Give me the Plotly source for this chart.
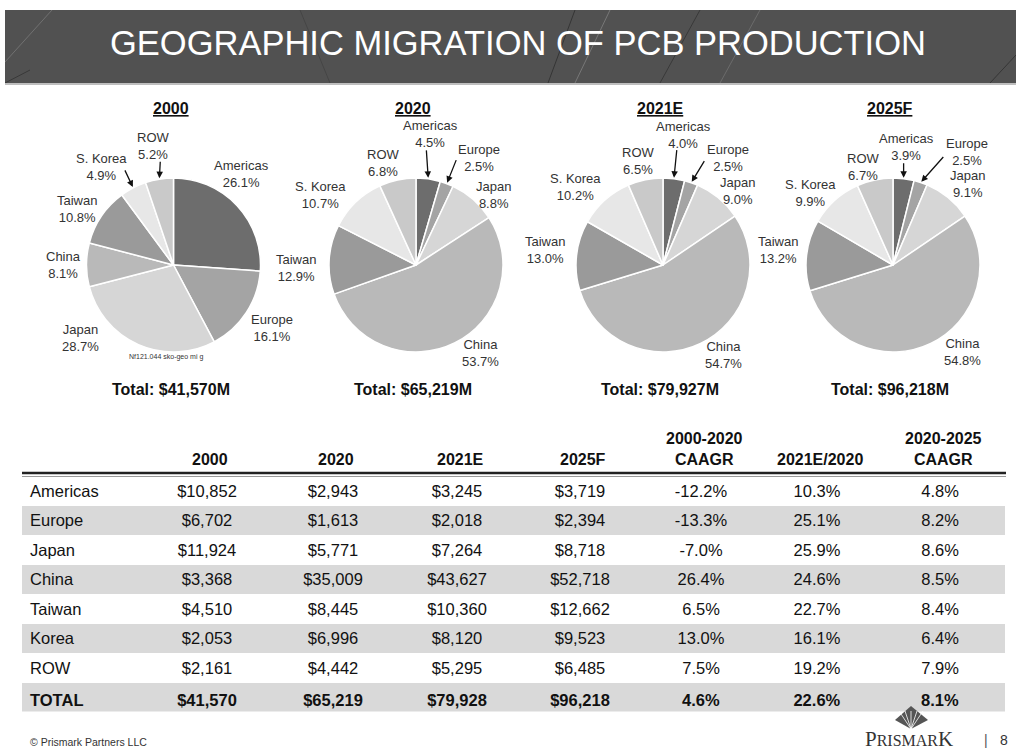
import math
import plotly.graph_objects as go

W, H = 1016, 752

# ---------------- data ----------------
regions = ['Americas', 'Europe', 'Japan', 'China', 'Taiwan', 'S. Korea', 'ROW']
pie_years = ['2000', '2020', '2021E', '2025F']
share_2000 = [26.1, 16.1, 28.7, 8.1, 10.8, 4.9, 5.2]
share_2020 = [4.5, 2.5, 8.8, 53.7, 12.9, 10.7, 6.8]
share_2021E = [4.0, 2.5, 9.0, 54.7, 13.0, 10.2, 6.5]
share_2025F = [3.9, 2.5, 9.1, 54.8, 13.2, 9.9, 6.7]
pie_totals = [41570, 65219, 79927, 96218]

table_rows = ['Americas', 'Europe', 'Japan', 'China', 'Taiwan', 'Korea', 'ROW', 'TOTAL']
table_headers = ['', '2000', '2020', '2021E', '2025F', '2000-2020<br>CAAGR', '2021E/2020', '2020-2025<br>CAAGR']
val_2000 = [10852, 6702, 11924, 3368, 4510, 2053, 2161, 41570]
val_2020 = [2943, 1613, 5771, 35009, 8445, 6996, 4442, 65219]
val_2021E = [3245, 2018, 7264, 43627, 10360, 8120, 5295, 79928]
val_2025F = [3719, 2394, 8718, 52718, 12662, 9523, 6485, 96218]
caagr_2000_2020 = [-12.2, -13.3, -7.0, 26.4, 6.5, 13.0, 7.5, 4.6]
growth_2021E_2020 = [10.3, 25.1, 25.9, 24.6, 22.7, 16.1, 19.2, 22.6]
caagr_2020_2025 = [4.8, 8.2, 8.6, 8.5, 8.4, 6.4, 7.9, 8.1]

# ---------------- styles / layout ----------------
region_colors = ['#6d6d6d', '#a4a4a4', '#d6d6d6', '#b9b9b9', '#9a9a9a', '#e7e7e7', '#c9c9c9']
pie_cx = [173.5, 416, 663, 893]
pie_cy = 265
R = 87
FONT = 'Liberation Sans, Arial, sans-serif'

# label offsets (px) from the pie centre, arrow tail offsets (px) from slice edge
label_offsets = [
    {'Americas': (68, -91), 'Europe': (98, 63), 'Japan': (-93, 73), 'China': (-110, 0),
     'Taiwan': (-97, -56), 'S. Korea': (-72, -98), 'ROW': (-20, -119)},
    {'Americas': (14, -131), 'Europe': (63, -107), 'Japan': (77, -70), 'China': (64, 88),
     'Taiwan': (-120, 3), 'S. Korea': (-96, -70), 'ROW': (-33, -102)},
    {'Americas': (20, -130), 'Europe': (65, -107), 'Japan': (74, -74), 'China': (60, 90),
     'Taiwan': (-118, -15), 'S. Korea': (-88, -78), 'ROW': (-25, -104)},
    {'Americas': (13, -118), 'Europe': (74, -113), 'Japan': (74, -81), 'China': (69, 87),
     'Taiwan': (-115, -15), 'S. Korea': (-83, -72), 'ROW': (-30, -98)},
]
arrows = [
    {'S. Korea': (-9, -19), 'ROW': (1, -19)},
    {'Americas': (-2, -30), 'Europe': (10, -25)},
    {'Americas': (3, -30), 'Europe': (14, -23)},
    {'Americas': (0, -17), 'Europe': (24, -27)},
]
col_widths = [123, 124, 128, 120, 126, 116, 116, 130]
TABLE_X0, TABLE_X1 = 22, 1005
HEAD_LINE_Y = 473
BODY_Y0, BODY_Y1 = 476.5, 712


def px(x):
    return x / W


def py(y):
    return 1 - y / H


fig = go.Figure()
annotations = []
shapes = []

# ---------------- header band ----------------
shapes.append(dict(type='rect', xref='paper', yref='paper', x0=px(5), x1=1, y0=py(83), y1=py(10),
                   fillcolor='#515151', line=dict(width=0), layer='below'))
for (x0, y0, x1, y1, c) in [(5, 62, 52, 10, 'rgba(255,255,255,0.18)'), (5, 83, 30, 70, 'rgba(0,0,0,0.3)'),
                            (548, 83, 575, 10, 'rgba(0,0,0,0.35)'), (575, 83, 610, 10, 'rgba(255,255,255,0.22)'),
                            (660, 83, 700, 10, 'rgba(0,0,0,0.3)'), (720, 83, 760, 10, 'rgba(255,255,255,0.15)'),
                            (990, 83, 1016, 55, 'rgba(0,0,0,0.35)'), (300, 10, 330, 83, 'rgba(0,0,0,0.15)')]:
    shapes.append(dict(type='line', xref='paper', yref='paper', x0=px(x0), y0=py(y0), x1=px(x1), y1=py(y1),
                       line=dict(color=c, width=1)))
shapes.append(dict(type='line', xref='paper', yref='paper', x0=px(5), x1=1, y0=py(84), y1=py(84),
                   line=dict(color='#a8a8a8', width=1.5)))
annotations.append(dict(text='GEOGRAPHIC MIGRATION OF PCB PRODUCTION', x=px(518), y=py(43),
                        xref='paper', yref='paper', showarrow=False, xanchor='center', yanchor='middle',
                        font=dict(family=FONT, size=34.5, color='white')))

# ---------------- pies ----------------
shares_all = [share_2000, share_2020, share_2021E, share_2025F]
for i, (year, shares) in enumerate(zip(pie_years, shares_all)):
    cx = pie_cx[i]
    fig.add_trace(go.Pie(
        values=shares, labels=regions, sort=False, direction='clockwise', rotation=0,
        marker=dict(colors=region_colors, line=dict(color='white', width=1.5)),
        textinfo='none', hoverinfo='label+percent', showlegend=False,
        domain=dict(x=[px(cx - R), px(cx + R)], y=[py(pie_cy + R), py(pie_cy - R)])))
    total = sum(shares)
    cum = 0.0
    for name, s in zip(regions, shares):
        mid = (cum + s / 2) / total * 360.0
        cum += s
        dx, dy = label_offsets[i][name]
        annotations.append(dict(text=f'{name}<br>{s:.1f}%', x=px(cx + dx), y=py(pie_cy + dy),
                                xref='paper', yref='paper', showarrow=False, xanchor='center',
                                yanchor='middle', font=dict(family=FONT, size=13, color='#333333')))
        if name in arrows[i]:
            ax, ay = arrows[i][name]
            tx = cx + R * math.sin(math.radians(mid))
            ty = pie_cy - R * math.cos(math.radians(mid))
            annotations.append(dict(text='', x=px(tx), y=py(ty), xref='paper', yref='paper',
                                    showarrow=True, ax=ax, ay=ay, arrowhead=2, arrowsize=1,
                                    arrowwidth=1.3, arrowcolor='#111111', standoff=1))
    annotations.append(dict(text=f'<u>{year}</u>', x=px(cx - 3), y=py(109), xref='paper', yref='paper',
                            xanchor='center', yanchor='middle', showarrow=False,
                            font=dict(family=FONT, size=16, color='#111111', weight='bold')))
    annotations.append(dict(text=f'Total: ${pie_totals[i]:,}M', x=px(cx - 3), y=py(390), xref='paper',
                            yref='paper', xanchor='center', yanchor='middle', showarrow=False,
                            font=dict(family=FONT, size=16, color='#111111', weight='bold')))

annotations.append(dict(text='Nf121.044 sko-geo mi g', x=px(166), y=py(357), xref='paper', yref='paper',
                        xanchor='center', yanchor='middle', showarrow=False,
                        font=dict(family=FONT, size=7, color='#333333')))

# ---------------- table ----------------
def money(v, bold):
    s = f'${v:,}'
    return f'<b>{s}</b>' if bold else s


def pct(v, bold):
    s = f'{v:.1f}%'
    return f'<b>{s}</b>' if bold else s


n = len(table_rows)
last = [k == n - 1 for k in range(n)]
cols = [
    [f'<b>{r}</b>' if b else r for r, b in zip(table_rows, last)],
    [money(v, b) for v, b in zip(val_2000, last)],
    [money(v, b) for v, b in zip(val_2020, last)],
    [money(v, b) for v, b in zip(val_2021E, last)],
    [money(v, b) for v, b in zip(val_2025F, last)],
    [pct(v, b) for v, b in zip(caagr_2000_2020, last)],
    [pct(v, b) for v, b in zip(growth_2021E_2020, last)],
    [pct(v, b) for v, b in zip(caagr_2020_2025, last)],
]
row_fill = ['white' if k % 2 == 0 else '#d9d9d9' for k in range(n)]
row_h = (BODY_Y1 - BODY_Y0) / n
aligns = ['left'] + ['center'] * 7
cell_font = dict(family=FONT, size=16.5, color='#111111')

# the first data row is carried by the table's header row (same look), the rest by the cells
fig.add_trace(go.Table(
    domain=dict(x=[px(TABLE_X0), px(TABLE_X1)], y=[py(BODY_Y1), py(BODY_Y0)]),
    columnwidth=col_widths,
    header=dict(values=[c[0] for c in cols], height=row_h, fill=dict(color=row_fill[0]),
                line=dict(color=row_fill[0], width=0), align=aligns, font=cell_font),
    cells=dict(values=[c[1:] for c in cols], height=row_h, fill=dict(color=[row_fill[1:]] * 8),
               line=dict(color=[row_fill[1:]] * 8, width=0), align=aligns, font=cell_font),
))

# header labels above the table columns
scale = (TABLE_X1 - TABLE_X0) / sum(col_widths)
edge = TABLE_X0
for h, wdt in zip(table_headers, col_widths):
    cxh = edge + wdt * scale / 2
    edge += wdt * scale
    if not h:
        continue
    annotations.append(dict(text=f'<b>{h}</b>', x=px(cxh + 3), y=py(HEAD_LINE_Y - 3), xref='paper',
                            yref='paper', xanchor='center', yanchor='bottom', showarrow=False,
                            font=dict(family=FONT, size=16, color='#111111')))

shapes.append(dict(type='line', xref='paper', yref='paper', x0=px(TABLE_X0), x1=px(TABLE_X1 + 1),
                   y0=py(HEAD_LINE_Y), y1=py(HEAD_LINE_Y), line=dict(color='#222222', width=2.5)))
shapes.append(dict(type='line', xref='paper', yref='paper', x0=px(TABLE_X0), x1=px(TABLE_X1 + 1),
                   y0=py(HEAD_LINE_Y + 3.5), y1=py(HEAD_LINE_Y + 3.5), line=dict(color='#999999', width=1)))

# ---------------- footer ----------------
annotations.append(dict(text='© Prismark Partners LLC', x=px(28), y=py(742), xref='paper', yref='paper',
                        xanchor='left', yanchor='middle', showarrow=False,
                        font=dict(family=FONT, size=10.5, color='#333333')))
annotations.append(dict(text='P<span style="font-size:16px">RISMAR</span>K', x=px(909), y=py(739),
                        xref='paper', yref='paper', xanchor='center', yanchor='middle', showarrow=False,
                        font=dict(family='Liberation Serif, DejaVu Serif, serif', size=21, color='#333333')))
annotations.append(dict(text='|', x=px(986), y=py(740), xref='paper', yref='paper', xanchor='center',
                        yanchor='middle', showarrow=False, font=dict(family=FONT, size=14, color='#555555')))
annotations.append(dict(text='8', x=px(1004), y=py(740), xref='paper', yref='paper', xanchor='center',
                        yanchor='middle', showarrow=False, font=dict(family=FONT, size=14, color='#333333')))
# logo fan
shapes.append(dict(type='path', xref='paper', yref='paper',
                   path=f'M {px(895)},{py(720)} L {px(911)},{py(706)} L {px(928)},{py(720)} L {px(911)},{py(729)} Z',
                   fillcolor='#555555', line=dict(width=0)))
for xt in [899, 905, 911, 917, 923]:
    shapes.append(dict(type='line', xref='paper', yref='paper', x0=px(911), y0=py(729), x1=px(xt), y1=py(711),
                       line=dict(color='white', width=0.8)))

fig.update_layout(width=W, height=H, margin=dict(l=0, r=0, t=0, b=0), paper_bgcolor='white',
                  plot_bgcolor='white', annotations=annotations, shapes=shapes,
                  font=dict(family=FONT))
fig.write_html('out.html', config={'displayModeBar': False},
               post_script="document.body.style.margin='0px';document.body.style.overflow='hidden';")
